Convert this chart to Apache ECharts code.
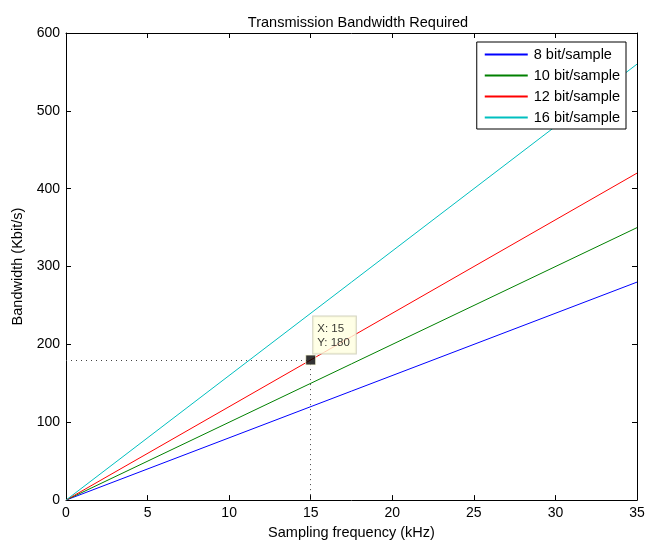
<!DOCTYPE html>
<html><head><meta charset="utf-8">
<script src="https://cdn.jsdelivr.net/npm/echarts@6/dist/echarts.min.js"></script>
<style>html,body{margin:0;padding:0;background:#fff}#c{width:660px;height:545px}</style>
</head><body><div id="c"></div>
<script>
var freqs = [0, 35];
var names = ['8 bit/sample', '10 bit/sample', '12 bit/sample', '16 bit/sample'];
var values8 = [0, 280];
var values10 = [0, 350];
var values12 = [0, 420];
var values16 = [0, 560];
var colors = ['#0000ff', '#008000', '#ff0000', '#00bfbf'];
var tipPoint = [15, 180];
var xTicks = [0, 5, 10, 15, 20, 25, 30, 35];
var yTicks = [0, 100, 200, 300, 400, 500, 600];

var font = 'Liberation Sans, Arial, Helvetica, sans-serif';
var allVals = [values8, values10, values12, values16];
var series = allVals.map(function (v, i) {
  return {
    name: names[i], type: 'line', symbol: 'none', silent: true,
    data: freqs.map(function (f, k) { return [f, v[k]]; }),
    lineStyle: { color: colors[i], width: 1 }, itemStyle: { color: colors[i] }
  };
});
series.push({
  type: 'scatter', data: [tipPoint], symbol: 'rect', symbolSize: 10, z: 10,
  itemStyle: { color: '#000', borderColor: '#ffffe0', borderWidth: 1 },
  label: {
    show: true, position: [8, -38],
    formatter: function (p) { return 'X: ' + p.value[0] + '\nY: ' + p.value[1]; },
    backgroundColor: '#ffffe0', borderColor: '#c8c8b0', borderWidth: 1,
    padding: [5, 6, 4, 4], color: '#000', fontSize: 11.5, lineHeight: 14, fontFamily: font
  },
  markLine: {
    silent: true, symbol: 'none', label: { show: false },
    lineStyle: { color: '#444', type: [1, 4], width: 1 },
    data: [
      [{ coord: [0, tipPoint[1]] }, { coord: [tipPoint[0], tipPoint[1]] }],
      [{ coord: [tipPoint[0], 0] }, { coord: [tipPoint[0], tipPoint[1]] }]
    ]
  }
});

var chart = echarts.init(document.getElementById('c'));
var axCommon = {
  type: 'value', splitLine: { show: false },
  axisLine: { show: true, onZero: false, lineStyle: { color: '#000', width: 1 } },
  axisTick: { show: true, inside: true, length: 5, lineStyle: { color: '#000' } }
};
chart.setOption({
  animation: false,
  textStyle: { fontFamily: font },
  title: {
    text: 'Transmission Bandwidth Required', left: 353, textAlign: 'center', top: 10,
    textStyle: { fontSize: 14.5, fontWeight: 'normal', color: '#000', fontFamily: font }
  },
  grid: { left: 66, right: 23, top: 33, bottom: 38 },
  legend: {
    data: names, orient: 'vertical', right: 34, top: 42,
    icon: 'rect',
    backgroundColor: '#fff', borderColor: '#000', borderWidth: 1,
    padding: [4, 6, 3, 8], itemGap: 4, itemWidth: 43, itemHeight: 2,
    textStyle: { fontSize: 14.5, lineHeight: 17, color: '#000', fontFamily: font, padding: [0, 0, 0, 1] }
  },
  xAxis: [
    Object.assign({}, axCommon, {
      min: 0, max: 35, interval: 5, position: 'bottom',
      name: 'Sampling frequency (kHz)', nameLocation: 'middle', nameGap: 24,
      nameTextStyle: { fontSize: 14.5, color: '#000', fontFamily: font },
      axisLabel: { fontSize: 14, color: '#000', margin: 6, fontFamily: font }
    }),
    Object.assign({}, axCommon, { min: 0, max: 35, interval: 5, position: 'top', axisLabel: { show: false } })
  ],
  yAxis: [
    Object.assign({}, axCommon, {
      min: 0, max: 600, interval: 100, position: 'left',
      name: 'Bandwidth (Kbit/s)', nameLocation: 'middle', nameGap: 39,
      nameTextStyle: { fontSize: 14.5, color: '#000', fontFamily: font },
      axisLabel: { fontSize: 14, color: '#000', margin: 6, fontFamily: font }
    }),
    Object.assign({}, axCommon, { min: 0, max: 600, interval: 100, position: 'right', axisLabel: { show: false } })
  ],
  series: series
});
</script></body></html>
